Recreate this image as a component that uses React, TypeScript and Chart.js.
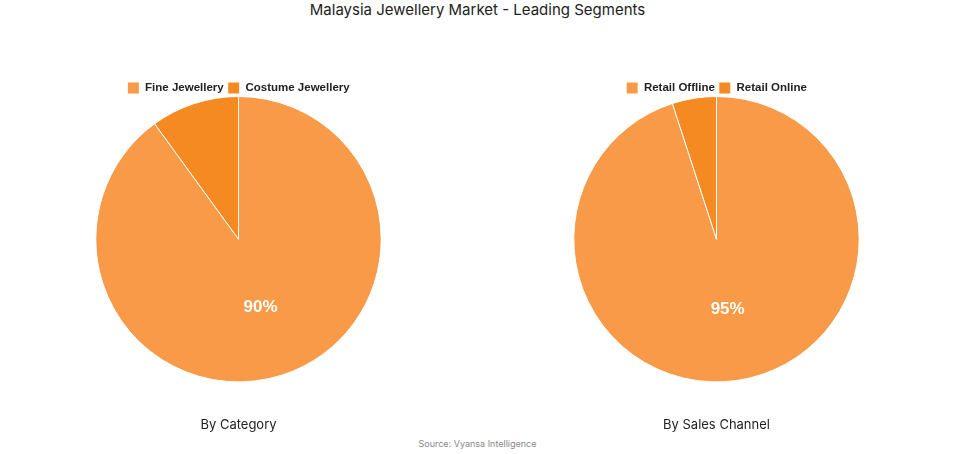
import React, { useEffect, useRef } from "react";
import { Chart, registerables } from "chart.js";

Chart.register(...registerables);

const chartTitle = "Malaysia Jewellery Market - Leading Segments";
const sourceText = "Source: Vyansa Intelligence";

const categoryLabels = ["Fine Jewellery", "Costume Jewellery"];
const categoryValues = [90, 10];
const categoryTitle = "By Category";

const channelLabels = ["Retail Offline", "Retail Online"];
const channelValues = [95, 5];
const channelTitle = "By Sales Channel";

const sliceColors = ["#F89A48", "#F68A22"];

const pctPlugin = {
  id: "pctLabel",
  afterDatasetsDraw(chart: any) {
    const ctx = chart.ctx;
    const meta = chart.getDatasetMeta(0);
    const data = chart.data.datasets[0].data as number[];
    const total = data.reduce((a, b) => a + b, 0);
    meta.data.forEach((arc: any, i: number) => {
      const v = data[i];
      if (v / total < 0.5) return;
      const p = arc.getCenterPoint();
      ctx.save();
      ctx.fillStyle = "#ffffff";
      ctx.font = "bold 17px 'Liberation Sans', Arial, sans-serif";
      ctx.textAlign = "center";
      ctx.textBaseline = "middle";
      ctx.fillText(Math.round((v / total) * 100) + "%", p.x, p.y);
      ctx.restore();
    });
  },
};

function PieChart(props: { labels: string[]; values: number[]; title: string; left: number }) {
  const ref = useRef<HTMLCanvasElement | null>(null);
  useEffect(() => {
    if (!ref.current) return;
    const chart = new Chart(ref.current, {
      type: "pie",
      data: {
        labels: props.labels,
        datasets: [
          {
            data: props.values,
            backgroundColor: sliceColors,
            borderColor: "#ffffff",
            borderWidth: 1,
          },
        ],
      },
      options: {
        animation: false,
        responsive: false,
        maintainAspectRatio: false,
        layout: { padding: 0 },
        plugins: {
          legend: {
            position: "top",
            labels: {
              boxWidth: 12,
              boxHeight: 12,
              padding: 4,
              color: "#222222",
              font: { family: "'Liberation Sans', Arial, sans-serif", size: 11.5, weight: "bold" },
            },
          },
          title: {
            display: true,
            text: props.title,
            position: "bottom",
            color: "#222222",
            font: { family: "Inter, 'Open Sans', sans-serif", size: 13, weight: "normal" },
            padding: { top: 35, bottom: 4 },
          },
          tooltip: { enabled: false },
        },
      },
      plugins: [pctPlugin],
    });
    const legend: any = (chart as any).legend;
    if (legend) {
      const origFit = legend.fit;
      legend.fit = function () {
        origFit.call(this);
        this.height = 18;
      };
      chart.update();
    }
    return () => chart.destroy();
  }, []);
  return (
    <canvas
      ref={ref}
      width={477}
      height={359}
      style={{ position: "absolute", left: props.left, top: 78, width: 477, height: 359 }}
    />
  );
}

export default function App() {
  return (
    <div style={{ position: "fixed", left: 0, top: 0, width: 955, height: 454, background: "#ffffff" }}>
      <div
        style={{
          position: "absolute",
          left: 0,
          top: 0,
          width: 955,
          textAlign: "center",
          fontFamily: "Inter, 'Open Sans', sans-serif",
          fontSize: 15,
          lineHeight: "20px",
          color: "#222222",
        }}
      >
        {chartTitle}
      </div>
      <PieChart labels={categoryLabels} values={categoryValues} title={categoryTitle} left={0} />
      <PieChart labels={channelLabels} values={channelValues} title={channelTitle} left={478} />
      <div
        style={{
          position: "absolute",
          left: 0,
          top: 437,
          width: 955,
          textAlign: "center",
          fontFamily: "Inter, 'Open Sans', sans-serif",
          fontSize: 9,
          lineHeight: "14px",
          color: "#888888",
        }}
      >
        {sourceText}
      </div>
    </div>
  );
}
